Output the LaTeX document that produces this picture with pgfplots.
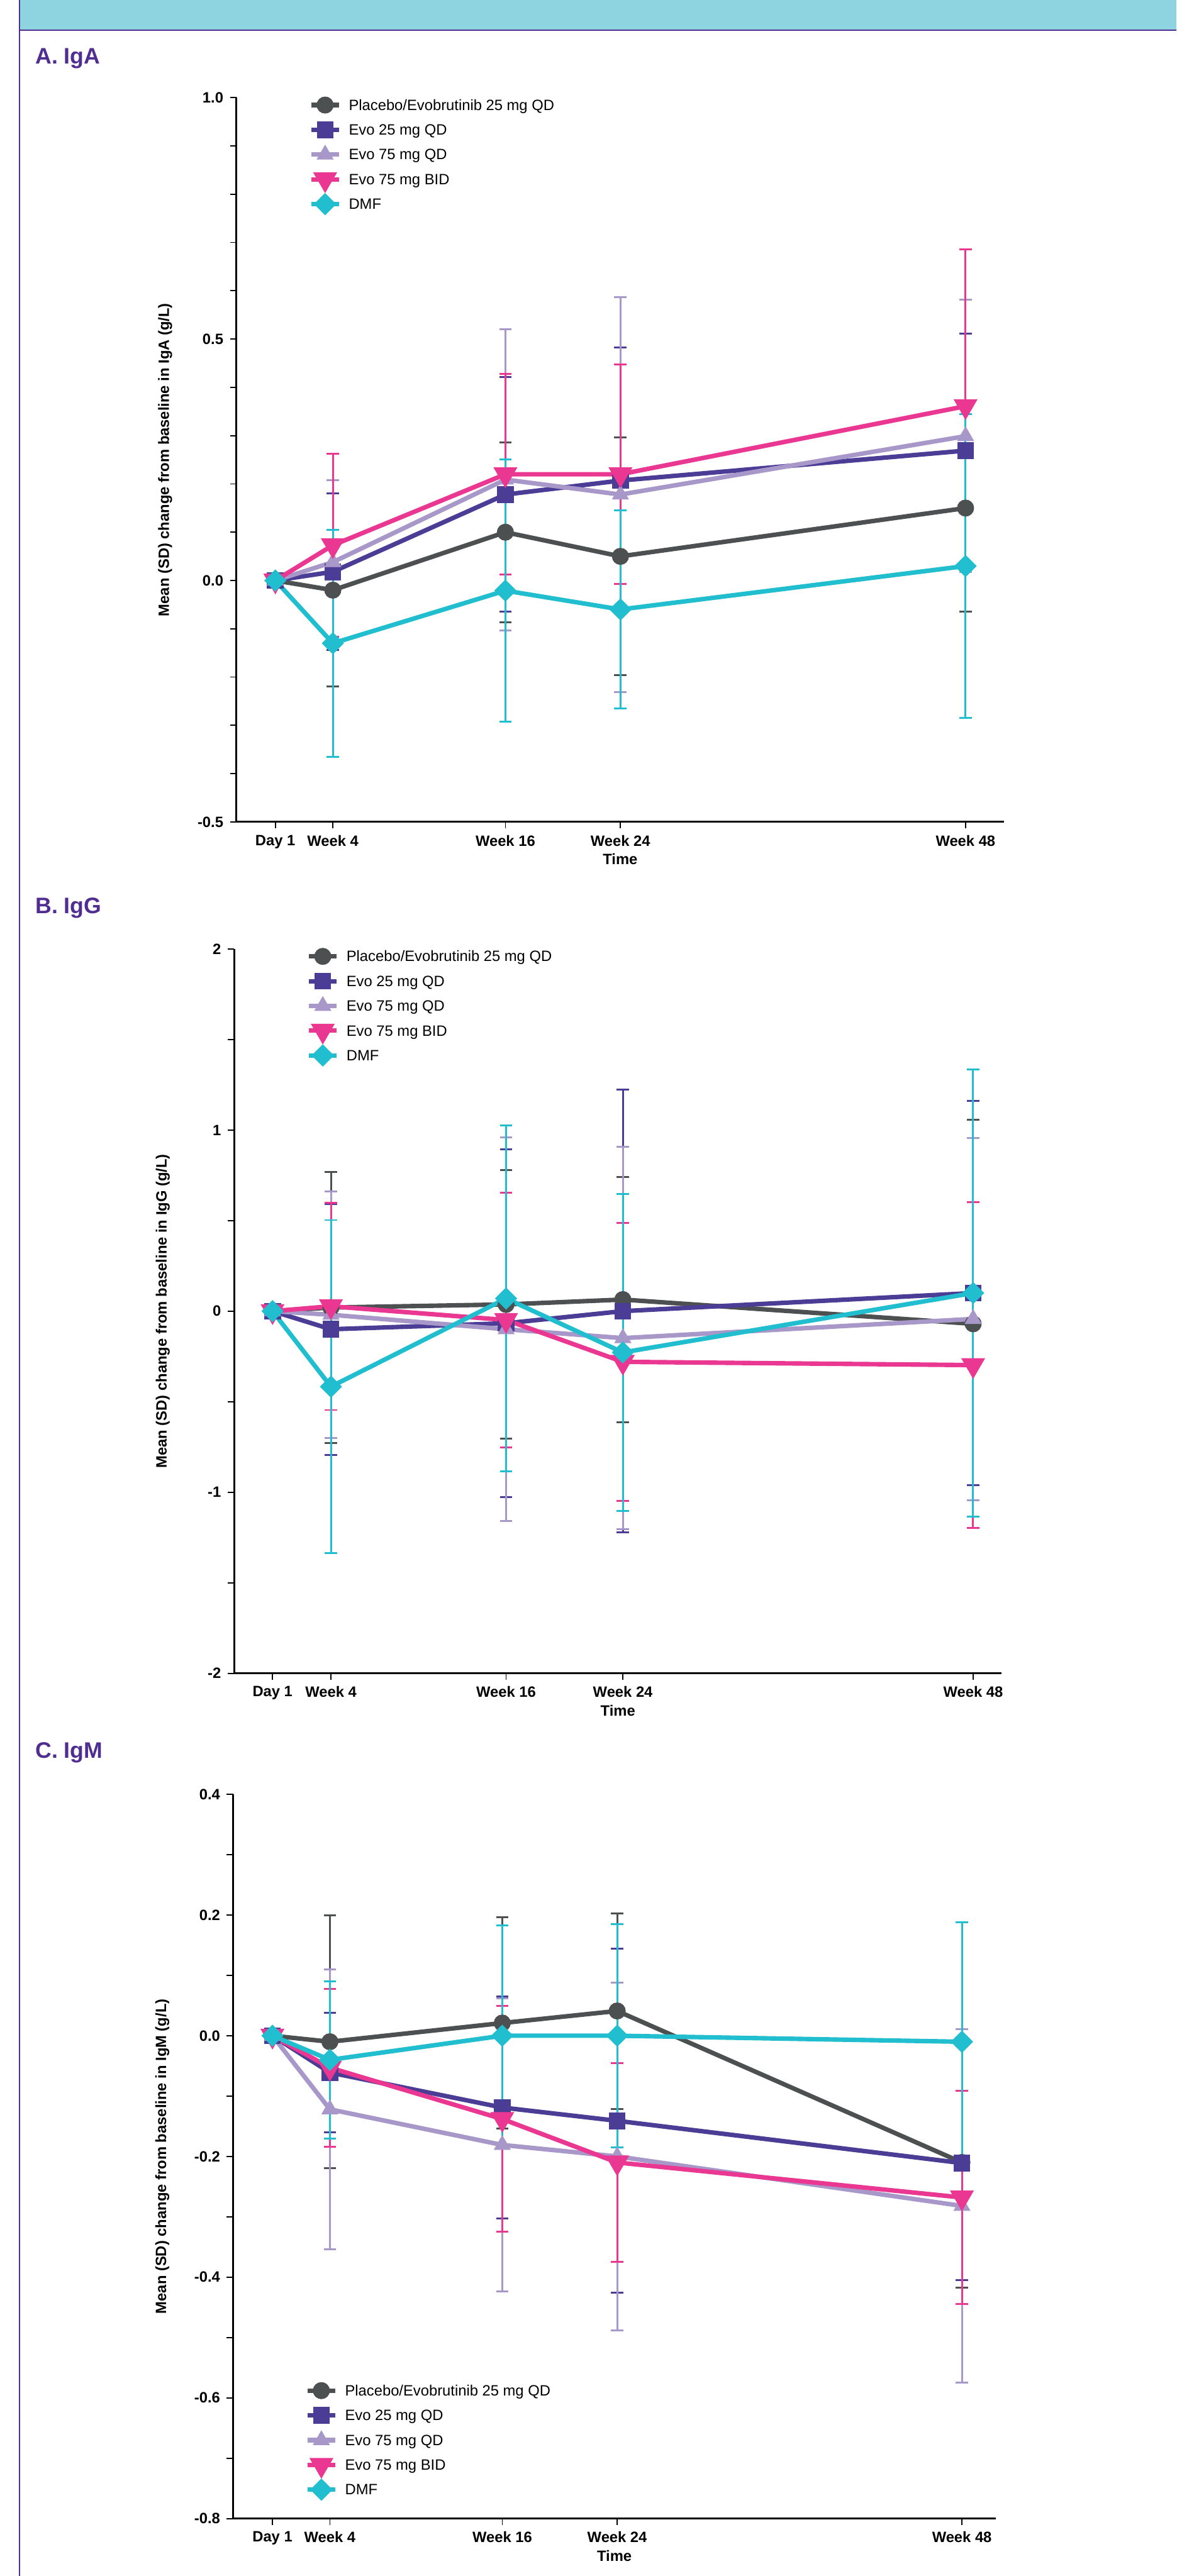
\documentclass[border=0pt]{standalone}
\usepackage{pgfplots}
\pgfplotsset{compat=1.18}
\usepackage{fontspec}
\setmainfont{Liberation Sans}
\definecolor{cgray}{RGB}{77,80,80}
\definecolor{cpurple}{RGB}{75,60,150}
\definecolor{clav}{RGB}{168,152,202}
\definecolor{cpink}{RGB}{234,56,146}
\definecolor{ccyan}{RGB}{32,190,206}
\definecolor{band}{RGB}{142,212,224}
\definecolor{bord}{RGB}{80,45,145}
\pgfplotsset{
  ser/.style={color=#1, line width=2.4pt, mark options={solid, fill=#1, draw=#1, line width=0.3pt},
    error bars/y dir=both, error bars/y explicit,
    error bars/error bar style={line width=1pt, color=#1},
    error bars/error mark options={rotate=90, line width=1pt, mark size=3.3pt, color=#1}},
  splac/.style={ser=cgray, mark=*, mark size=4.4pt},
  sevo25/.style={ser=cpurple, mark=square*, mark size=4.3pt},
  sevo75/.style={ser=clav, mark=triangle*, mark size=5pt},
  sbid/.style={ser=cpink, mark=triangle*, mark size=5pt, mark options={rotate=180}},
  sdmf/.style={ser=ccyan, mark=square*, mark size=3pt, mark options={rotate=45}},
  panel/.style={
    scale only axis, height=387.5pt,
    axis x line*=bottom, axis y line*=left,
    axis line style={line width=1pt, -},
    tick align=outside, major tick length=3.5pt, minor tick length=3.5pt,
    every tick/.style={black, line width=0.6pt},
    xtick={0,4,16,24,48},
    xticklabels={Day 1, Week 4, Week 16, Week 24, Week 48},
    ticklabel style={font=\bfseries\fontsize{8}{9.6}\selectfont},
    /pgf/number format/assume math mode=true,
    xlabel={Time},
    xlabel style={font=\bfseries\fontsize{8}{9.6}\selectfont, at={(axis description cs:0.5,0)}, anchor=center, yshift=-20pt},
    ylabel style={font=\bfseries\fontsize{8}{9.6}\selectfont, at={(axis description cs:-0.093,0.5)}, anchor=center},
    clip=false,
    legend cell align=left,
    legend image code/.code={%
      \begin{pgfinterruptboundingbox}
      \draw[mark repeat=2,mark phase=2,##1] plot coordinates {(0pt,0pt) (7.5pt,0pt) (15pt,0pt)};
      \end{pgfinterruptboundingbox}
      \path (0pt,-2pt) (15pt,2pt);
    },
    legend style={draw=none, fill=none, inner sep=0pt, row sep=5.75pt, column sep=4pt,
      font=\fontsize{8}{9.6}\selectfont,
      nodes={inner sep=0pt, text height=6.5pt, text depth=1pt}},
  },
}
\newcommand{\ttl}[1]{{\color{bord}\bfseries\fontsize{12}{14}\selectfont #1}}
\begin{document}
\begin{tikzpicture}
\useasboundingbox (0,0) rectangle (629.25pt,-1378.25pt);
\fill[white] (0,0) rectangle (629.25pt,-1378.25pt);
\fill[band] (10.5pt,0) rectangle (629.25pt,-16.25pt);
\draw[bord, line width=0.75pt] (10.5pt,-16.25pt) -- (629.25pt,-16.25pt);
\draw[bord, line width=0.75pt] (10.5pt,0) -- (10.5pt,-1378.25pt);
\node[anchor=base west, inner sep=0pt] at (18.75pt,-34.25pt) {\ttl{A. IgA}};
\node[anchor=base west, inner sep=0pt] at (18.75pt,-488.75pt) {\ttl{B. IgG}};
\node[anchor=base west, inner sep=0pt] at (18.75pt,-940.5pt) {\ttl{C. IgM}};

% Panel A
\begin{axis}[panel, at={(126.5pt,-439.75pt)}, anchor=south west, width=410.5pt,
  xmin=-2.70, xmax=50.67, ymin=-0.5, ymax=1.0,
  ytick={-0.5,0,0.5,1}, minor y tick num=4,
  yticklabel style={/pgf/number format/.cd, fixed, fixed zerofill, precision=1},
  ylabel={Mean (SD) change from baseline in IgA (g/L)},
  legend style={at={(rel axis cs:0.0938,1)}, anchor=north west}]
\addplot+[splac] coordinates {(0,0) +- (0,0) (4,-0.02) +- (0,0.20) (16,0.10) +- (0,0.186) (24,0.05) +- (0,0.246) (48,0.15) +- (0,0.215)};
\addlegendentry{Placebo/Evobrutinib 25 mg QD}
\addplot+[sevo25] coordinates {(0,0) +- (0,0) (4,0.018) +- (0,0.162) (16,0.178) +- (0,0.243) (24,0.207) +- (0,0.275) (48,0.269) +- (0,0.242)};
\addlegendentry{Evo 25 mg QD}
\addplot+[sevo75] coordinates {(0,0) +- (0,0) (4,0.038) +- (0,0.17) (16,0.209) +- (0,0.312) (24,0.178) +- (0,0.409) (48,0.299) +- (0,0.282)};
\addlegendentry{Evo 75 mg QD}
\addplot+[sbid] coordinates {(0,0) +- (0,0) (4,0.073) +- (0,0.19) (16,0.22) +- (0,0.208) (24,0.22) +- (0,0.227) (48,0.361) +- (0,0.325)};
\addlegendentry{Evo 75 mg BID}
\addplot+[sdmf] coordinates {(0,0) +- (0,0) (4,-0.13) +- (0,0.235) (16,-0.021) +- (0,0.272) (24,-0.06) +- (0,0.205) (48,0.03) +- (0,0.314)};
\addlegendentry{DMF}
\end{axis}

% Panel B
\begin{axis}[panel, at={(125.25pt,-895.25pt)}, anchor=south west, width=410.5pt,
  xmin=-2.63, xmax=49.95, ymin=-2, ymax=2,
  ytick={-2,-1,0,1,2}, minor y tick num=1,
  ylabel={Mean (SD) change from baseline in IgG (g/L)},
  legend style={at={(rel axis cs:0.0938,1)}, anchor=north west}]
\addplot+[splac] coordinates {(0,0) +- (0,0) (4,0.02) +- (0,0.75) (16,0.037) +- (0,0.742) (24,0.064) +- (0,0.677) (48,-0.07) +- (0,1.126)};
\addlegendentry{Placebo/Evobrutinib 25 mg QD}
\addplot+[sevo25] coordinates {(0,0) +- (0,0) (4,-0.10) +- (0,0.693) (16,-0.067) +- (0,0.96) (24,0.0) +- (0,1.222) (48,0.10) +- (0,1.06)};
\addlegendentry{Evo 25 mg QD}
\addplot+[sevo75] coordinates {(0,0) +- (0,0) (4,-0.02) +- (0,0.68) (16,-0.10) +- (0,1.06) (24,-0.149) +- (0,1.055) (48,-0.043) +- (0,1.0)};
\addlegendentry{Evo 75 mg QD}
\addplot+[sbid] coordinates {(0,0) +- (0,0) (4,0.027) +- (0,0.573) (16,-0.049) +- (0,0.703) (24,-0.28) +- (0,0.768) (48,-0.298) +- (0,0.9)};
\addlegendentry{Evo 75 mg BID}
\addplot+[sdmf] coordinates {(0,0) +- (0,0) (4,-0.417) +- (0,0.92) (16,0.07) +- (0,0.956) (24,-0.228) +- (0,0.875) (48,0.10) +- (0,1.235)};
\addlegendentry{DMF}
\end{axis}

% Panel C
\begin{axis}[panel, at={(124.75pt,-1347.5pt)}, anchor=south west, width=407.75pt,
  xmin=-2.73, xmax=50.34, ymin=-0.8, ymax=0.4,
  ytick={-0.8,-0.6,-0.4,-0.2,0,0.2,0.4}, minor y tick num=1,
  yticklabel style={/pgf/number format/.cd, fixed, fixed zerofill, precision=1},
  ylabel={Mean (SD) change from baseline in IgM (g/L)},
  legend style={at={(rel axis cs:0.0938,0)}, anchor=south west, yshift=11.5pt}]
\addplot+[splac] coordinates {(0,0) +- (0,0) (4,-0.01) +- (0,0.209) (16,0.021) +- (0,0.175) (24,0.041) +- (0,0.162) (48,-0.21) +- (0,0.207)};
\addlegendentry{Placebo/Evobrutinib 25 mg QD}
\addplot+[sevo25] coordinates {(0,0) +- (0,0) (4,-0.061) +- (0,0.099) (16,-0.119) +- (0,0.184) (24,-0.141) +- (0,0.285) (48,-0.211) +- (0,0.194)};
\addlegendentry{Evo 25 mg QD}
\addplot+[sevo75] coordinates {(0,0) +- (0,0) (4,-0.122) +- (0,0.232) (16,-0.181) +- (0,0.243) (24,-0.20) +- (0,0.288) (48,-0.282) +- (0,0.293)};
\addlegendentry{Evo 75 mg QD}
\addplot+[sbid] coordinates {(0,0) +- (0,0) (4,-0.053) +- (0,0.131) (16,-0.138) +- (0,0.187) (24,-0.21) +- (0,0.165) (48,-0.268) +- (0,0.177)};
\addlegendentry{Evo 75 mg BID}
\addplot+[sdmf] coordinates {(0,0) +- (0,0) (4,-0.04) +- (0,0.13) (16,0.0) +- (0,0.183) (24,0.0) +- (0,0.185) (48,-0.01) +- (0,0.198)};
\addlegendentry{DMF}
\end{axis}
\end{tikzpicture}
\end{document}
